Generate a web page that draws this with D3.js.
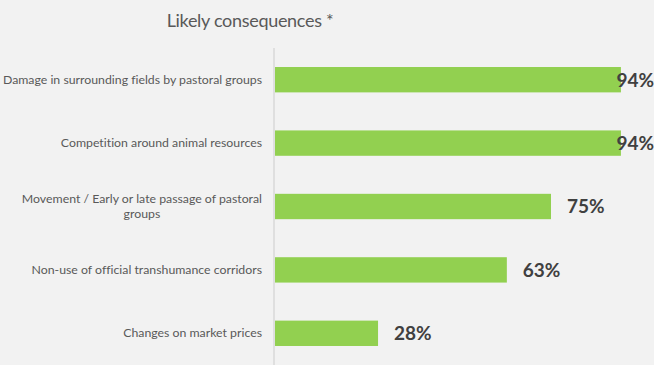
<!DOCTYPE html>
<html>
<head>
<meta charset="utf-8">
<script src="https://cdn.jsdelivr.net/npm/d3@7"></script>
<style>
  html, body { margin: 0; padding: 0; background: #f2f2f2; }
  svg { display: block; }
  text { font-variant-ligatures: none; }
</style>
</head>
<body>
<svg id="chart" width="654" height="365"></svg>
<script>
const categories = [
  "Damage in surrounding fields by pastoral groups",
  "Competition around animal resources",
  "Movement / Early or late passage of pastoral groups",
  "Non-use of official transhumance corridors",
  "Changes on market prices"
];
const values = [94, 94, 75, 63, 28];
const title = "Likely consequences *";

const W = 654, H = 365;
const svg = d3.select("#chart");
svg.append("rect").attr("width", W).attr("height", H).attr("fill", "#f2f2f2");

const x = d3.scaleLinear().domain([0, 100]).range([275, 643]);
const y = d3.scaleBand().domain(categories).range([48, 365]).paddingInner(0.6).paddingOuter(0.3);

// title
svg.append("text")
  .attr("x", 250).attr("y", 27)
  .attr("text-anchor", "middle")
  .attr("font-family", "Lato, sans-serif")
  .attr("font-size", 18)
  .attr("letter-spacing", -0.3)
  .attr("fill", "#595959")
  .text(title);

// bars
svg.selectAll("rect.bar").data(categories).join("rect")
  .attr("class", "bar")
  .attr("x", x(0))
  .attr("y", d => y(d))
  .attr("width", (d, i) => x(values[i]) - x(0))
  .attr("height", y.bandwidth())
  .attr("fill", "#92d050");

// category axis
const axis = svg.append("g").attr("transform", `translate(${x(0) - 1},0)`)
  .call(d3.axisLeft(y).tickSize(0).tickPadding(12));
axis.select(".domain").attr("stroke", "#d9d9d9").attr("stroke-width", 1.5)
  .attr("d", `M0,48V${H}`);
axis.selectAll(".tick text")
  .attr("font-family", "Lato, sans-serif")
  .attr("font-size", 12.3)
  .attr("fill", "#595959")
  .each(function (d) {
    const t = d3.select(this);
    const maxW = 262;
    if (this.getComputedTextLength() > maxW) {
      // wrap into two centred lines
      const words = d.split(" ");
      let line1 = [], rest = [];
      for (let k = 0; k < words.length; k++) {
        const trial = line1.concat(words[k]).join(" ");
        t.text(trial);
        if (rest.length || this.getComputedTextLength() > maxW) rest.push(words[k]);
        else line1.push(words[k]);
      }
      t.text(null);
      t.append("tspan").attr("x", 0).attr("dy", "-0.3em").text(line1.join(" "));
      const w1 = t.select("tspan").node().getComputedTextLength();
      t.attr("text-anchor", "middle");
      t.select("tspan").attr("x", -12 - w1 / 2);
      t.append("tspan").attr("x", -12 - w1 / 2).attr("dy", "1.25em").text(rest.join(" "));
    }
  });

// value labels
svg.selectAll("text.val").data(categories).join("text")
  .attr("class", "val")
  .attr("y", d => y(d) + y.bandwidth() / 2)
  .attr("dy", "0.36em")
  .attr("font-family", "Lato, sans-serif")
  .attr("font-weight", "bold")
  .attr("font-size", 19)
  .attr("fill", "#404040")
  .text((d, i) => values[i] + "%")
  .each(function (d, i) {
    const w = this.getComputedTextLength();
    d3.select(this).attr("x", Math.min(x(values[i]) + 16, W - w));
  });
</script>
</body>
</html>
